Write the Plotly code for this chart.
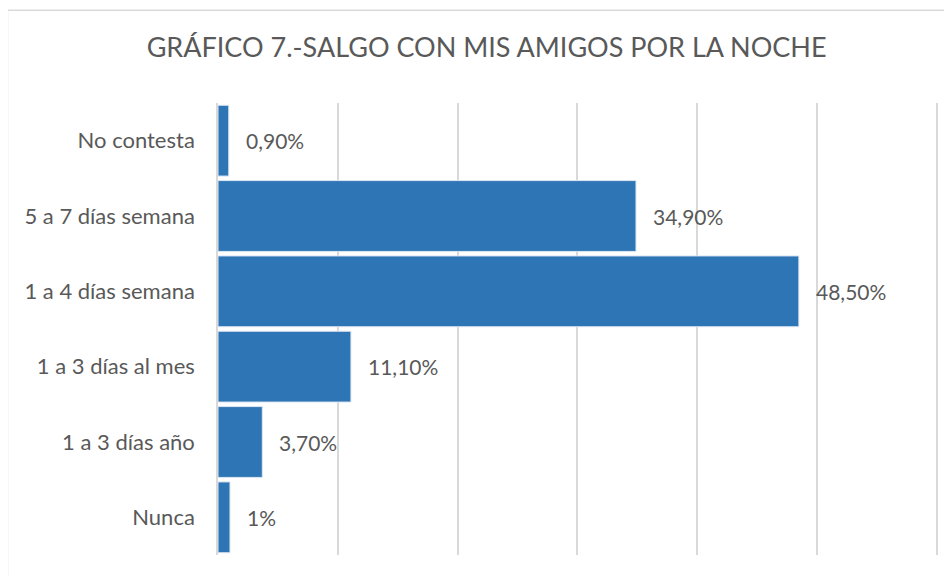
import plotly.graph_objects as go

# datos (de abajo hacia arriba)
categorias = ["Nunca", "1 a 3 días año", "1 a 3 días al mes",
              "1 a 4 días semana", "5 a 7 días semana", "No contesta"]
porcentajes = [1.0, 3.7, 11.1, 48.5, 34.9, 0.9]
etiquetas = ["1%", "3,70%", "11,10%", "48,50%", "34,90%", "0,90%"]

fuente = "Lato, 'Open Sans', sans-serif"
gris = "#595959"

fig = go.Figure()
fig.add_trace(go.Bar(
    y=categorias, x=porcentajes, orientation="h",
    marker=dict(color="#2E75B6", line=dict(color="#DCE6F2", width=1)),
    hoverinfo="x+y",
))

for cat, val, txt in zip(categorias, porcentajes, etiquetas):
    fig.add_annotation(x=val, y=cat, text=txt, showarrow=False,
                       xanchor="left", xshift=15,
                       font=dict(family=fuente, size=21, color=gris))

fig.update_layout(
    title=dict(text="GRÁFICO 7.-SALGO CON MIS AMIGOS POR LA NOCHE",
               x=0.507, xanchor="center", y=0.93, yanchor="middle",
               font=dict(family=fuente, size=27, color=gris)),
    xaxis=dict(
        range=[0, 60.2], dtick=10, showticklabels=False,
        showgrid=True, gridcolor="#D9D9D9", gridwidth=1.5,
        zeroline=False, showline=False,
    ),
    yaxis=dict(
        showgrid=False, showline=True, linecolor="#D9D9D9", linewidth=1.5,
        tickfont=dict(family=fuente, size=22, color=gris),
        ticklabelstandoff=17,
    ),
    bargap=0.06,
    plot_bgcolor="white",
    paper_bgcolor="white",
    showlegend=False,
    width=944, height=569,
    margin=dict(l=210, r=13, t=95, b=22, autoexpand=False),
)

# marco del gráfico
fig.add_shape(type="rect", xref="paper", yref="paper",
              x0=-0.292, x1=1.05, y0=-0.1, y1=1.205,
              line=dict(color="#D9D9D9", width=1.5), layer="below")

fig.write_html("out.html")
